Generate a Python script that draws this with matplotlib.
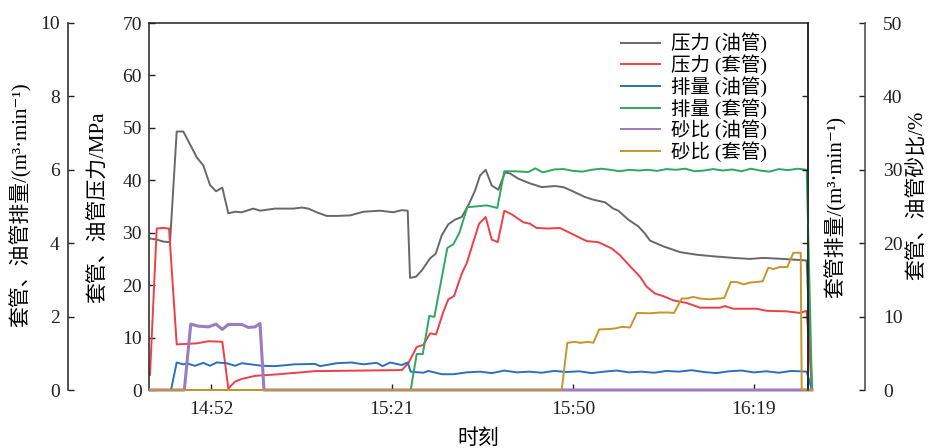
import matplotlib
matplotlib.use("Agg")
import matplotlib.pyplot as plt

plt.rcParams["font.family"] = ["Liberation Serif", "Noto Sans CJK SC", "DejaVu Sans"]

# ---- time axis (minutes after 14:00) ----
time_ticks = [52, 81, 110, 139]
time_labels = ["14:52", "15:21", "15:50", "16:19"]

# ---- tubing pressure, MPa ----
t_p_tubing = [42.22, 43.30, 44.36, 45.43, 46.50, 47.56, 49.71, 50.77, 51.84, 52.80,
              53.81, 54.77, 55.85, 56.92, 58.78, 59.85, 62.26, 65.19, 66.54, 67.59,
              68.94, 70.54, 72.14, 74.28, 76.41, 79.08, 81.21, 82.56, 83.52, 83.89,
              84.85, 85.77, 87.10, 88.01, 88.97, 90.03, 91.10, 92.18, 93.23, 94.30,
              95.11, 96.02, 96.98, 98.04, 99.12, 99.92, 101.25, 103.12, 105.00, 107.13,
              108.46, 109.80, 111.94, 113.27, 115.14, 116.47, 117.27, 118.87, 120.48, 121.50,
              122.35, 124.48, 127.16, 129.84, 132.50, 135.70, 138.38, 140.51, 143.72, 147.46,
              148.31]
p_tubing = [28.9, 28.7, 28.3, 28.2, 49.3, 49.3, 44.4, 42.8, 39.1, 37.9,
            38.6, 33.7, 34.0, 33.9, 34.6, 34.2, 34.6, 34.6, 34.8, 34.6,
            33.9, 33.2, 33.2, 33.3, 34.0, 34.2, 33.9, 34.3, 34.2, 21.4,
            21.6, 22.8, 25.1, 26.0, 29.5, 31.6, 32.5, 33.0, 35.2, 38.0,
            40.9, 42.0, 39.0, 38.2, 41.5, 41.3, 40.3, 39.4, 38.7, 38.9,
            38.7, 38.0, 36.8, 36.3, 35.8, 34.6, 34.2, 32.5, 31.2, 29.9,
            28.5, 27.4, 26.3, 25.8, 25.5, 25.2, 25.0, 25.2, 25.0, 24.7,
            0.0]

# ---- casing pressure, MPa ----
t_p_casing = [42.22, 43.30, 44.36, 45.27, 46.50, 49.71, 51.57, 53.81, 54.77, 55.85,
              56.92, 59.05, 62.79, 68.67, 82.56, 83.62, 84.96, 86.02, 87.10, 88.06,
              89.23, 90.03, 90.94, 92.18, 92.98, 94.03, 94.95, 96.02, 96.98, 97.95,
              99.00, 100.19, 102.05, 103.12, 104.19, 106.05, 107.93, 109.80, 112.21, 114.07,
              116.21, 117.54, 119.15, 120.75, 121.82, 123.15, 124.48, 126.09, 128.23, 130.37,
              133.57, 134.37, 135.70, 139.45, 141.06, 144.26, 146.39, 147.46, 148.31]
p_casing = [2.9, 30.8, 30.9, 30.8, 8.7, 8.9, 9.3, 9.2, 0.3, 1.6,
            2.1, 2.7, 3.0, 3.6, 3.8, 5.1, 8.2, 8.6, 10.8, 10.6,
            14.9, 17.3, 17.9, 22.2, 24.2, 28.2, 31.7, 33.0, 28.7, 28.2,
            34.2, 33.5, 32.0, 31.7, 30.9, 30.8, 30.9, 29.8, 28.4, 28.2,
            27.0, 25.7, 23.6, 21.6, 19.7, 18.4, 17.9, 17.1, 16.6, 15.7,
            15.7, 16.0, 15.5, 15.5, 15.1, 15.0, 14.7, 15.1, 0.0]

# ---- tubing rate, m3/min ----
t_q_tubing = [42.22, 45.59, 46.50, 47.56, 48.20, 49.44, 50.77, 51.84, 52.91, 54.52,
              55.85, 56.92, 60.13, 62.26, 65.46, 68.67, 69.47, 72.14, 74.55, 76.41,
              78.55, 79.52, 80.69, 82.56, 83.52, 84.00, 86.02, 86.82, 88.97, 90.83,
              92.98, 95.11, 97.00, 99.00, 101.00, 103.00, 105.00, 107.00, 109.00, 111.00,
              113.00, 115.00, 117.00, 119.00, 121.00, 123.00, 125.00, 127.00, 129.00, 131.00,
              133.00, 135.00, 137.00, 139.00, 141.00, 143.00, 145.00, 147.46, 148.31]
q_tubing = [0.0, 0.0, 0.75, 0.70, 0.72, 0.66, 0.74, 0.66, 0.75, 0.73,
            0.66, 0.73, 0.66, 0.65, 0.70, 0.71, 0.65, 0.73, 0.75, 0.70,
            0.74, 0.65, 0.75, 0.68, 0.75, 0.50, 0.47, 0.52, 0.43, 0.43,
            0.48, 0.50, 0.46, 0.53, 0.48, 0.50, 0.47, 0.52, 0.49, 0.51,
            0.46, 0.50, 0.53, 0.48, 0.50, 0.47, 0.52, 0.50, 0.54, 0.49,
            0.46, 0.51, 0.53, 0.48, 0.51, 0.47, 0.52, 0.50, 0.0]

# ---- casing rate, m3/min ----
t_q_casing = [42.22, 84.00, 84.96, 85.93, 86.98, 87.79, 89.87, 90.83, 91.79, 93.07,
              96.18, 97.88, 99.00, 100.72, 102.85, 103.97, 105.16, 107.02, 108.50, 110.00,
              111.50, 113.00, 114.50, 116.00, 117.50, 119.00, 120.50, 122.00, 123.50, 125.00,
              126.50, 128.00, 129.50, 131.00, 132.50, 134.00, 135.50, 137.00, 138.50, 140.00,
              141.50, 143.00, 144.50, 146.00, 147.46, 148.31]
q_casing = [0.0, 0.0, 0.98, 0.98, 2.02, 1.99, 3.87, 3.97, 4.28, 4.98,
            5.03, 4.96, 5.96, 5.96, 5.94, 6.04, 5.93, 6.01, 6.02, 5.97,
            5.95, 6.00, 6.03, 6.00, 5.96, 6.00, 5.98, 6.00, 5.97, 6.02,
            6.00, 6.03, 5.96, 5.98, 6.02, 5.98, 6.01, 5.96, 6.03, 5.98,
            5.95, 6.02, 5.99, 6.03, 6.00, 0.0]

# ---- tubing sand ratio, % ----
t_s_tubing = [42.22, 47.72, 48.75, 49.96, 51.57, 52.80, 53.81, 54.77, 56.92, 57.98,
              59.05, 59.85, 60.49, 148.31]
s_tubing = [0.0, 0.0, 8.97, 8.70, 8.60, 8.97, 8.25, 8.93, 8.93, 8.52,
            8.60, 9.06, 0.0, 0.0]

# ---- casing sand ratio, % ----
t_s_casing = [42.22, 108.20, 109.10, 110.33, 111.13, 112.46, 113.27, 114.20, 115.67, 116.74,
              117.82, 119.15, 120.25, 122.35, 123.96, 125.29, 126.20, 127.43, 128.23, 129.29,
              130.37, 131.97, 133.30, 134.26, 135.29, 136.25, 137.32, 138.38, 140.41, 141.32,
              142.12, 143.19, 144.36, 145.32, 146.50, 146.66, 148.31]
s_casing = [0.0, 0.0, 6.43, 6.56, 6.43, 6.56, 6.43, 8.25, 8.30, 8.38,
            8.60, 8.52, 10.50, 10.45, 10.56, 10.56, 10.50, 12.46, 12.46, 12.68,
            12.46, 12.36, 12.46, 12.54, 14.71, 14.71, 14.40, 14.63, 14.81, 16.67,
            16.48, 16.75, 16.75, 18.70, 18.70, 0.0, 0.0]

c_gray, c_red, c_blue = "#686868", "#ee3f47", "#2c6fbf"
c_green, c_purple, c_gold = "#2ea764", "#9a7cc0", "#c6952c"
spine_c = "#222222"
lw = 1.4
fs_tick, fs_label = 14, 15
unit_rate = "/(m³·min⁻¹)"

fig = plt.figure(figsize=(9.29, 4.48), dpi=100)
ax = fig.add_axes([149 / 929, 58 / 448, 659 / 929, 367 / 448])

# pressure axis (inner left)
ax.set_xlim(42.06, 147.67)
ax.set_ylim(0, 70)
ax.set_yticks(range(0, 71, 10))
ax.set_xticks(time_ticks)
ax.set_xticklabels(time_labels)
ax.tick_params(axis="both", direction="in", length=4, width=1, labelsize=fs_tick,
               colors=spine_c)
ax.tick_params(axis="x", pad=8)
ax.tick_params(axis="y", pad=5, right=False)
for s in ax.spines.values():
    s.set_color(spine_c)
    s.set_linewidth(1.1)
ax.set_xlabel("时刻", fontsize=fs_label, labelpad=8)

h1, = ax.plot(t_p_tubing, p_tubing, color=c_gray, lw=lw, clip_on=False, label="压力 (油管)")
h2, = ax.plot(t_p_casing, p_casing, color=c_red, lw=lw, clip_on=False, label="压力 (套管)")

# rate axis (outer left)
axq = ax.twinx()
axq.set_ylim(0, 10)
axq.set_yticks(range(0, 11, 2))
axq.yaxis.set_ticks_position("left")
for k in ("right", "top", "bottom"):
    axq.spines[k].set_visible(False)
axq.spines["left"].set_position(("axes", -81 / 659))
axq.spines["left"].set_color(spine_c)
axq.spines["left"].set_linewidth(1.1)
axq.tick_params(axis="y", direction="in", length=4, width=1, labelsize=fs_tick,
                pad=6, colors=spine_c)
h3, = axq.plot(t_q_tubing, q_tubing, color=c_blue, lw=lw, clip_on=False, label="排量 (油管)")
h4, = axq.plot(t_q_casing, q_casing, color=c_green, lw=lw, clip_on=False, label="排量 (套管)")

# sand ratio axis (outer right)
axs = ax.twinx()
axs.set_ylim(0, 50)
axs.set_yticks(range(0, 51, 10))
for k in ("left", "top", "bottom"):
    axs.spines[k].set_visible(False)
axs.spines["right"].set_position(("axes", (865 - 149) / 659))
axs.spines["right"].set_color("#444444")
axs.spines["right"].set_linewidth(1.1)
axs.tick_params(axis="y", direction="in", length=4, width=1, labelsize=fs_tick,
                pad=13, colors=spine_c)
h5, = axs.plot(t_s_tubing, s_tubing, color=c_purple, lw=2.2, clip_on=False, label="砂比 (油管)")
h6, = axs.plot(t_s_casing, s_casing, color=c_gold, lw=lw, clip_on=False, label="砂比 (套管)")

# tick marks on the frame's right edge
axi = ax.twinx()
axi.set_ylim(0, 50)
axi.set_yticks([10, 20, 30, 40])
axi.set_yticklabels([])
for k in ("left", "top", "bottom"):
    axi.spines[k].set_visible(False)
axi.spines["right"].set_color(spine_c)
axi.spines["right"].set_linewidth(1.1)
axi.tick_params(axis="y", direction="in", length=4, width=1, colors=spine_c)

leg = axi.legend(handles=[h1, h2, h3, h4, h5, h6], loc="upper right",
                 bbox_to_anchor=((777 - 149) / 659, 1.0), frameon=False,
                 fontsize=14, labelspacing=0.05, handlelength=2.0,
                 handletextpad=0.6, borderpad=0.0)
for line in leg.get_lines():
    line.set_linewidth(1.4)

# axis titles
fig.text(21 / 929, 1 - 205 / 448, "套管、油管排量" + unit_rate, rotation=90,
         ha="center", va="center", fontsize=fs_label)
fig.text(99 / 929, 1 - 207 / 448, "套管、油管压力/MPa", rotation=90,
         ha="center", va="center", fontsize=fs_label)
fig.text(836 / 929, 1 - 207 / 448, "套管排量" + unit_rate, rotation=90,
         ha="center", va="center", fontsize=fs_label)
fig.text(918 / 929, 1 - 195 / 448, "套管、油管砂比/%", rotation=90,
         ha="center", va="center", fontsize=fs_label)

fig.savefig("out.png", dpi=100)
